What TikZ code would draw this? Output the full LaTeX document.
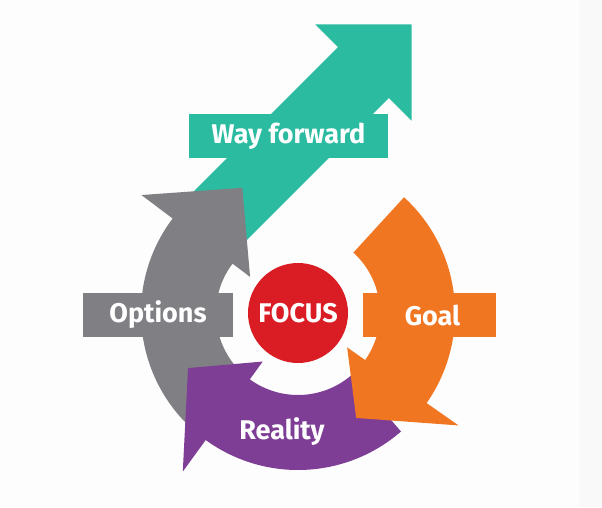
\documentclass[tikz,border=0pt]{standalone}
\usepackage{fontspec}
\setmainfont{Fira Sans}
\definecolor{wayteal}{RGB}{43,187,160}
\definecolor{optgray}{RGB}{128,128,132}
\definecolor{goalorange}{RGB}{240,118,34}
\definecolor{realpurple}{RGB}{126,62,150}
\definecolor{focusred}{RGB}{218,28,36}
\definecolor{paperwhite}{RGB}{253,253,253}
\definecolor{panelgray}{RGB}{249,249,249}
\begin{document}
\begin{tikzpicture}[x=1pt, y=1pt,
    every node/.style={text=white, font=\fontsize{27}{32}\selectfont\bfseries,
          inner sep=0pt},
    tag/.style={rectangle, minimum height=44, fill=#1}]
  \useasboundingbox (0,0) rectangle (602,507);
  \fill[paperwhite] (0,0) rectangle (602,507);
  \fill[panelgray] (579,0) rectangle (602,507);
  % way forward arrow
  \fill[wayteal, shift={(198,269)}, rotate=45]
    (0,-36) -- (234,-36) -- (234,-68) -- (302,0) -- (234,68) -- (234,36)
    -- (0,36) -- cycle;
  % the three ring arrows
  \begin{scope}[shift={(298,194)}]
    \foreach \col/\tail/\back/\tipa/\tipr in
        {optgray/232/143/114/137, realpurple/-49/-126/-153.4/123,
         goalorange/47.5/-35/-61/120}
      \fill[\col] (\tail:157) arc[start angle=\tail, end angle=\back, radius=157]
        -- (\back:196) -- (\tipa:\tipr) -- (\back:60)
        -- (\back:82) arc[start angle=\back, end angle=\tail, radius=82] -- cycle;
  \end{scope}
  \node[tag=wayteal, minimum width=199] (way) at (288.5,370.5) {Way forward};
  \node[tag=optgray, minimum width=150] (options) at (158,192) {Options};
  \node[tag=goalorange, minimum width=133] (goal) at (429.5,192) {\hspace{6pt}Goal};
  \node (reality) at (282,75) {Reality};
  \node[circle, fill=focusred, minimum size=100] (focus) at (298,194) {FOCUS};
\end{tikzpicture}
\end{document}
